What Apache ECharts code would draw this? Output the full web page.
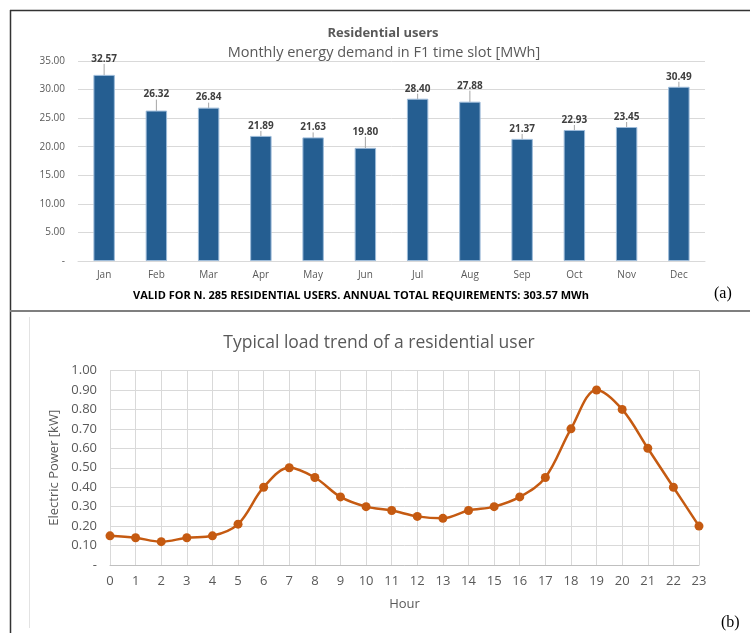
<!DOCTYPE html>
<html>
<head>
<meta charset="utf-8">
<script src="https://cdn.jsdelivr.net/npm/echarts@6/dist/echarts.min.js"></script>
<style>
  html, body { margin: 0; padding: 0; background: #ffffff; }
  #chart { width: 750px; height: 633px; }
</style>
</head>
<body>
<div id="chart"></div>
<script>
// Monthly energy demand (MWh) in the F1 time slot
const months = ['Jan', 'Feb', 'Mar', 'Apr', 'May', 'Jun', 'Jul', 'Aug', 'Sep', 'Oct', 'Nov', 'Dec'];
const monthlyDemand = [32.57, 26.32, 26.84, 21.89, 21.63, 19.80, 28.40, 27.88, 21.37, 22.93, 23.45, 30.49];

// Typical daily load of one residential user (kW)
const hours = ['0', '1', '2', '3', '4', '5', '6', '7', '8', '9', '10', '11',
               '12', '13', '14', '15', '16', '17', '18', '19', '20', '21', '22', '23'];
const loadKw = [0.15, 0.14, 0.12, 0.14, 0.15, 0.21, 0.40, 0.50, 0.45, 0.35, 0.30, 0.28,
                0.25, 0.24, 0.28, 0.30, 0.35, 0.45, 0.70, 0.90, 0.80, 0.60, 0.40, 0.20];

const FONT = 'Open Sans';
const GREY_TEXT = '#595959';
const GRID_LINE = '#d9d9d9';

// bars whose value label sits a little higher with a short guide line
const raisedLabels = [0, 1, 5, 7];

const chart = echarts.init(document.getElementById('chart'), null, { renderer: 'canvas' });

chart.setOption({
  animation: false,
  backgroundColor: '#ffffff',
  textStyle: { fontFamily: FONT },
  title: [
    {
      text: 'Residential users',
      left: 378, top: 22, textAlign: 'center',
      textStyle: { fontFamily: FONT, fontSize: 13, fontWeight: 'bold', color: GREY_TEXT }
    },
    {
      text: 'Monthly energy demand in F1 time slot [MWh]',
      left: 379, top: 40, textAlign: 'center',
      textStyle: { fontFamily: FONT, fontSize: 14.5, fontWeight: 'normal', color: GREY_TEXT }
    },
    {
      text: 'VALID FOR N. 285 RESIDENTIAL USERS. ANNUAL TOTAL REQUIREMENTS: 303.57 MWh',
      left: 356, top: 285, textAlign: 'center',
      textStyle: { fontFamily: FONT, fontSize: 11, fontWeight: 'bold', color: '#000000' }
    },
    {
      text: 'Typical load trend of a residential user',
      left: 374, top: 329, textAlign: 'center',
      textStyle: { fontFamily: FONT, fontSize: 17.5, fontWeight: 'normal', color: GREY_TEXT }
    }
  ],
  grid: [
    { left: 78, right: 45, top: 61, height: 200, containLabel: false },
    { left: 110, right: 51, top: 370.5, height: 194.5, containLabel: false }
  ],
  xAxis: [
    {
      gridIndex: 0,
      type: 'category',
      data: months,
      axisLine: { show: true, lineStyle: { color: GRID_LINE, width: 1 } },
      axisTick: { show: false },
      axisLabel: { color: GREY_TEXT, fontSize: 10, margin: 9, fontFamily: FONT }
    },
    {
      gridIndex: 1,
      type: 'category',
      data: hours,
      boundaryGap: false,
      name: 'Hour',
      nameLocation: 'middle',
      nameGap: 33,
      nameTextStyle: { color: GREY_TEXT, fontSize: 13, fontFamily: FONT },
      axisLine: { show: true, lineStyle: { color: '#bfbfbf', width: 1 } },
      axisTick: { show: false },
      axisLabel: { color: GREY_TEXT, fontSize: 13, margin: 10, fontFamily: FONT, interval: 0 },
      splitLine: { show: true, lineStyle: { color: GRID_LINE, width: 1 } }
    }
  ],
  yAxis: [
    {
      gridIndex: 0,
      type: 'value',
      min: 0, max: 35, interval: 5,
      axisLine: { show: false },
      axisTick: { show: false },
      axisLabel: {
        color: GREY_TEXT, fontSize: 10, margin: 13, fontFamily: FONT,
        formatter: v => (v === 0 ? '-' : v.toFixed(2))
      },
      splitLine: { show: true, lineStyle: { color: GRID_LINE, width: 1 } }
    },
    {
      gridIndex: 1,
      type: 'value',
      min: 0, max: 1, interval: 0.1,
      name: 'Electric Power [kW]',
      nameLocation: 'middle',
      nameGap: 43,
      nameRotate: 90,
      nameTextStyle: { color: GREY_TEXT, fontSize: 13, fontFamily: FONT },
      axisLine: { show: false },
      axisTick: { show: false },
      axisLabel: {
        color: GREY_TEXT, fontSize: 13, margin: 13, fontFamily: FONT,
        formatter: v => (v === 0 ? '-' : v.toFixed(2))
      },
      splitLine: { show: true, lineStyle: { color: GRID_LINE, width: 1 } }
    }
  ],
  series: [
    {
      type: 'bar',
      xAxisIndex: 0,
      yAxisIndex: 0,
      data: monthlyDemand,
      barWidth: '41%',
      itemStyle: { color: '#255e91', borderColor: '#9dbbd9', borderWidth: 1 },
      label: {
        show: true,
        position: 'top',
        distance: 5,
        color: '#404040',
        fontSize: 10,
        fontWeight: 'bold',
        fontFamily: FONT,
        formatter: p => p.value.toFixed(2)
      },
      labelLayout: p => (raisedLabels.indexOf(p.dataIndex) >= 0 ? { dy: -6 } : {}),
      labelLine: { show: true, lineStyle: { color: '#a6a6a6', width: 1 } }
    },
    {
      type: 'line',
      xAxisIndex: 1,
      yAxisIndex: 1,
      data: loadKw,
      smooth: 0.35,
      symbol: 'circle',
      symbolSize: 9,
      lineStyle: { color: '#c55a11', width: 2.5 },
      itemStyle: { color: '#c55a11' }
    }
  ],
  graphic: [
    // panel frames
    { type: 'line', shape: { x1: 10.5, y1: 10, x2: 10.5, y2: 633 }, style: { stroke: '#333333', lineWidth: 1.5 }, silent: true },
    { type: 'line', shape: { x1: 10, y1: 10.5, x2: 750, y2: 10.5 }, style: { stroke: '#333333', lineWidth: 1.5 }, silent: true },
    { type: 'line', shape: { x1: 10, y1: 311, x2: 750, y2: 311 }, style: { stroke: '#7f7f7f', lineWidth: 2 }, silent: true },
    { type: 'line', shape: { x1: 29.5, y1: 317, x2: 29.5, y2: 628 }, style: { stroke: '#e3e3e3', lineWidth: 1 }, silent: true },
    // panel tags
    { type: 'text', left: 714, top: 286, style: { text: '(a)', font: '16px "Liberation Serif"', fill: '#000000' }, silent: true },
    { type: 'text', left: 721, top: 615, style: { text: '(b)', font: '16px "Liberation Serif"', fill: '#000000' }, silent: true }
  ]
});
</script>
</body>
</html>
